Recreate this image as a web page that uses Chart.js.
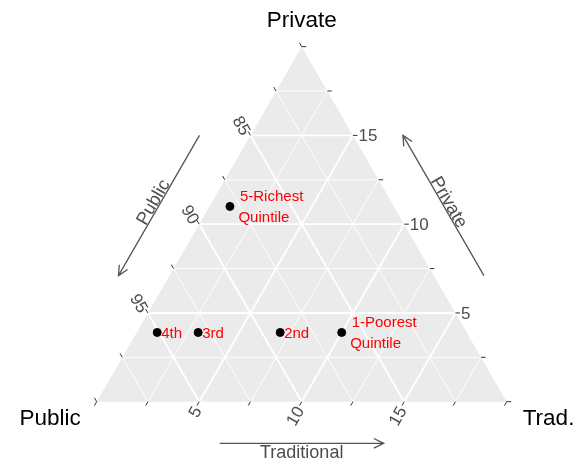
<!DOCTYPE html>
<html>
<head>
<meta charset="utf-8">
<script src="https://cdn.jsdelivr.net/npm/chart.js@4.4.1/dist/chart.umd.min.js"></script>
<style>
  body { margin: 0; background: #fff; }
  #wrap { width: 581px; height: 464px; position: relative; }
</style>
</head>
<body>
<div id="wrap"><canvas id="ternary"></canvas></div>
<script>
// share of care by provider type (%), one entry per wealth quintile
const groups = ['5-Richest\nQuintile', '4th', '3rd', '2nd', '1-Poorest\nQuintile'];
const publicShare = [88, 95.1, 93.1, 89.1, 86.1];
const privateShare = [11, 3.9, 3.9, 3.9, 3.9];
const traditionalShare = [1, 1, 3, 7, 10];

// zoomed window of the ternary: Public 80-100, Private 0-20, Traditional 0-20
const publicMin = 80;
const span = 20;
const publicTicks = [85, 90, 95];
const privateTicks = [5, 10, 15];
const tradTicks = [5, 10, 15];
const majorSteps = [5, 10, 15];
const minorSteps = [2.5, 7.5, 12.5, 17.5];
const tickSteps = [0, 2.5, 5, 7.5, 10, 12.5, 15, 17.5, 20];

const H = Math.sqrt(3) / 2;
// private / traditional -> cartesian (side length 1)
function xy(pri, tra) {
    let a = pri / span, b = tra / span;
    return { x: b + a / 2, y: a * H };
}

// grid lines, each segment split by a null point
function gridData(steps) {
    let out = [];
    steps.forEach(o => {
        out.push(xy(o, 0), xy(o, span - o), { x: null, y: null });      // private = o
        out.push(xy(0, o), xy(span - o, o), { x: null, y: null });      // traditional = o
        out.push(xy(0, span - o), xy(span - o, 0), { x: null, y: null }); // public = 80 + o
    });
    return out;
}

const L = 0.011;
let tickData = [];
tickSteps.forEach(o => {
    let b = xy(0, o);
    tickData.push(b, { x: b.x - 0.5 * L, y: b.y - H * L }, { x: null, y: null });
    b = xy(o, span - o);
    tickData.push(b, { x: b.x + L, y: b.y }, { x: null, y: null });
    b = xy(span - o, 0);
    tickData.push(b, { x: b.x - 0.5 * L, y: b.y + H * L }, { x: null, y: null });
});

const pointData = groups.map((g, i) => xy(privateShare[i], traditionalShare[i]));

const labelPlugin = {
    id: 'ternaryText',
    afterDatasetsDraw(chart) {
        const ctx = chart.ctx;
        const sx = chart.scales.x, sy = chart.scales.y;
        const P = p => ({ x: sx.getPixelForValue(p.x), y: sy.getPixelForValue(p.y) });

        function text(t, x, y, deg, align, base, font, color) {
            ctx.save();
            ctx.translate(x, y);
            ctx.rotate(deg * Math.PI / 180);
            ctx.textAlign = align;
            ctx.textBaseline = base;
            ctx.font = font;
            ctx.fillStyle = color;
            ctx.fillText(t, 0, 0);
            ctx.restore();
        }
        function arrow(x1, y1, x2, y2) {
            let ang = Math.atan2(y2 - y1, x2 - x1), hl = 11, ha = 0.45;
            ctx.save();
            ctx.strokeStyle = '#555555';
            ctx.lineWidth = 1.3;
            ctx.beginPath();
            ctx.moveTo(x1, y1);
            ctx.lineTo(x2, y2);
            ctx.moveTo(x2 - hl * Math.cos(ang - ha), y2 - hl * Math.sin(ang - ha));
            ctx.lineTo(x2, y2);
            ctx.lineTo(x2 - hl * Math.cos(ang + ha), y2 - hl * Math.sin(ang + ha));
            ctx.stroke();
            ctx.restore();
        }

        const tickFont = '17px "Liberation Sans", Arial, sans-serif';
        const grey = '#4d4d4d';

        // tick labels
        publicTicks.forEach(v => {
            let p = P(xy(span - (v - publicMin), 0));
            text(String(v), p.x - 5, p.y - 1, 60, 'right', 'middle', tickFont, grey);
        });
        privateTicks.forEach(v => {
            let p = P(xy(v, span - v));
            text(String(v), p.x + 5.5, p.y + 1, 0, 'left', 'middle', tickFont, grey);
        });
        tradTicks.forEach(v => {
            let p = P(xy(0, v));
            text(String(v), p.x - 1, p.y + 6.5, -60, 'right', 'middle', tickFont, grey);
        });

        // axis arrows + titles
        const titleFont = '18px "Liberation Sans", Arial, sans-serif';
        let a1 = P(xy(15, 0)), a2 = P(xy(7.1, 0));
        arrow(a1.x - 51, a1.y, a2.x - 51, a2.y);
        let mx = (a1.x + a2.x) / 2 - 51, my = (a1.y + a2.y) / 2;
        text('Public', mx - 0.866, my - 0.5, -60, 'center', 'alphabetic', titleFont, grey);

        let b1 = P(xy(7.1, span - 7.1)), b2 = P(xy(15, 5));
        arrow(b1.x + 50, b1.y, b2.x + 50, b2.y);
        mx = (b1.x + b2.x) / 2 + 50; my = (b1.y + b2.y) / 2;
        text('Private', mx + 0.866, my - 0.5, 60, 'center', 'alphabetic', titleFont, grey);

        let c1 = P(xy(0, 6)), c2 = P(xy(0, 14));
        arrow(c1.x, c1.y + 41.6, c2.x, c2.y + 41.6);
        text('Traditional', (c1.x + c2.x) / 2, c1.y + 51.5, 0, 'center', 'middle', titleFont, grey);

        // vertex names
        const vFont = '22.5px "Liberation Sans", Arial, sans-serif';
        let top = P(xy(span, 0)), left = P(xy(0, 0)), right = P(xy(0, span));
        text('Private', top.x, 20.5, 0, 'center', 'middle', vFont, '#000');
        text('Public', left.x - 16, left.y + 17, 0, 'right', 'middle', vFont, '#000');
        text('Trad.', right.x + 16, right.y + 17, 0, 'left', 'middle', vFont, '#000');

        // point labels
        const lblFont = '15px "Liberation Sans", Arial, sans-serif';
        pointData.forEach((d, i) => {
            let p = P(d);
            let lines = groups[i].split('\n');
            if (lines.length === 1) {
                text(lines[0], p.x + 4, p.y + 1, 0, 'left', 'middle', lblFont, '#ff0000');
            } else {
                text(lines[0], p.x + 10, p.y - 9.5, 0, 'left', 'middle', lblFont, '#ff0000');
                text(lines[1], p.x + 8.5, p.y + 11.5, 0, 'left', 'middle', lblFont, '#ff0000');
            }
        });
    }
};

new Chart(document.getElementById('ternary'), {
    type: 'scatter',
    data: {
        datasets: [
            {
                data: pointData,
                backgroundColor: '#000',
                borderColor: '#000',
                pointRadius: 4,
                order: 1
            },
            {
                data: tickData,
                showLine: true,
                spanGaps: false,
                borderColor: '#333333',
                borderWidth: 1,
                pointRadius: 0,
                order: 2
            },
            {
                data: gridData(majorSteps),
                showLine: true,
                spanGaps: false,
                borderColor: '#ffffff',
                borderWidth: 1.9,
                pointRadius: 0,
                order: 3
            },
            {
                data: gridData(minorSteps),
                showLine: true,
                spanGaps: false,
                borderColor: '#ffffff',
                borderWidth: 0.9,
                pointRadius: 0,
                order: 4
            },
            {
                // background triangle, filled down to the base line
                data: [xy(0, 0), xy(span, 0), xy(0, span)],
                showLine: true,
                fill: 'origin',
                backgroundColor: '#ebebeb',
                borderWidth: 0,
                pointRadius: 0,
                order: 5
            }
        ]
    },
    options: {
        responsive: true,
        maintainAspectRatio: false,
        animation: false,
        events: [],
        layout: { padding: 0, autoPadding: false },
        plugins: { legend: { display: false }, tooltip: { enabled: false } },
        scales: {
            x: { type: 'linear', display: false, min: -0.23585, max: 1.18122 },
            y: { type: 'linear', display: false, min: -0.15195, max: 0.97976 }
        }
    },
    plugins: [labelPlugin]
});
</script>
</body>
</html>
